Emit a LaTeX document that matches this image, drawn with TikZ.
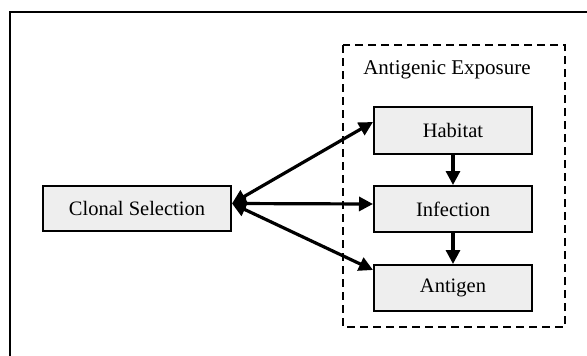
\documentclass[tikz,border=0pt]{standalone}
\usepackage{fontspec}
\setmainfont{Liberation Serif}
\usetikzlibrary{arrows.meta, positioning}
\definecolor{boxgray}{RGB}{238, 238, 238}

\begin{document}
\begin{tikzpicture}[x=1pt, y=-1pt,
    box/.style={draw, line width=2pt, fill=boxgray, minimum height=46pt, inner sep=0pt, font=\fontsize{20.5}{24}\selectfont},
    link/.style={line width=3.2pt, -{Triangle[length=14pt, width=14pt]}},
    twoway/.style={line width=3.2pt, {Triangle[length=14pt, width=14pt]}-{Triangle[length=14pt, width=14pt]}}
]
\useasboundingbox (0,0) rectangle (587,356);
% outer frame
\draw[line width=2pt] (9.5,357) -- (9.5,12) -- (588,12);
% antigenic exposure group
\draw[line width=2.6pt, dash pattern=on 8pt off 5pt] (343,45) rectangle (565,327);
\node[font=\fontsize{21}{24}\selectfont] (exposure) at (447,70) {Antigenic Exposure};

\node[box, minimum width=188pt, minimum height=45pt] (clonal) at (137,208.5) {Clonal Selection};
\node[box, minimum width=158pt, minimum height=47pt] (habitat) at (453,130.5) {Habitat};
\node[box, minimum width=158pt] (infection) at (453,209) {Infection};
\node[box, minimum width=158pt] (antigen) at (453,288) {Antigen};

\draw[twoway] ([yshift=5pt]clonal.east) -- ([yshift=-16pt]habitat.north west);
\draw[twoway] ([yshift=5pt]clonal.east) -- ([yshift=5pt]infection.west);
\draw[twoway] ([yshift=5pt]clonal.east) -- ([yshift=-6pt]antigen.north west);
\draw[link] (habitat) -- (infection);
\draw[link] (infection) -- (antigen);
\end{tikzpicture}
\end{document}
